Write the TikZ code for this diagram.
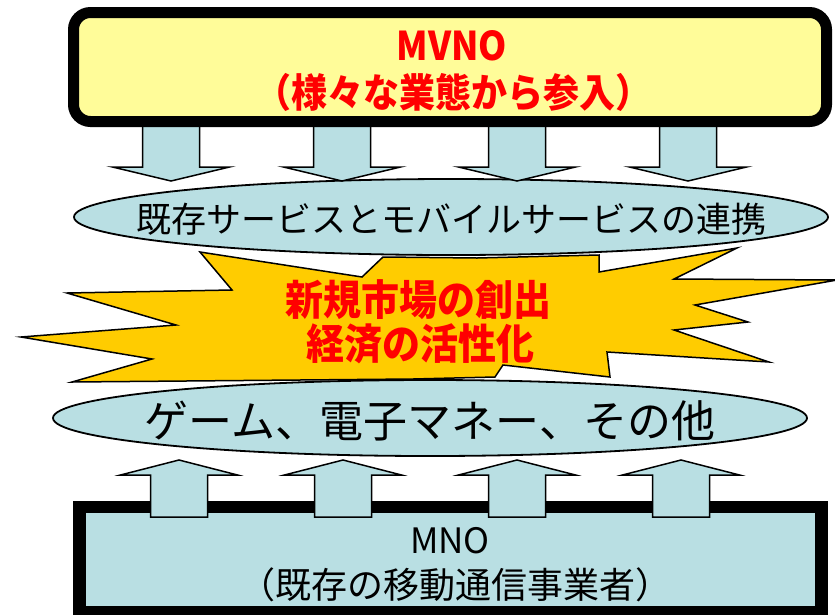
\documentclass[tikz,border=0pt]{standalone}
\usepackage{fontspec}
\newfontfamily\cjk{Noto Sans CJK JP}
\definecolor{boxyellow}{HTML}{FFFC99}
\definecolor{lightblue}{HTML}{B9DFE3}
\definecolor{stargold}{HTML}{FFCC00}
\definecolor{textred}{HTML}{FF0000}
\tikzset{
  blockarrow/.style={fill=lightblue, draw=black, line width=1.5pt, line join=miter},
  bubble/.style={fill=lightblue, draw=black, line width=1.8pt},
  redtext/.style={text=textred, font=\cjk\bfseries\fontsize{36}{40}\selectfont, inner sep=0pt},
  startext/.style={text=textred, font=\cjk\bfseries\fontsize{38}{44}\selectfont, inner sep=0pt},
  plaintext/.style={text=black, inner sep=0pt}
}
\begin{document}
\begin{tikzpicture}[x=1pt,y=-1pt]
\useasboundingbox (0,0) rectangle (835,614);
\clip (0,0) rectangle (835,614);

% star burst
\draw[fill=stargold, draw=black, line width=1.5pt, line join=miter]
  (200,252) -- (362,277) -- (383,257) -- (477,258) -- (599,255) -- (599,272)
  -- (737,248) -- (674,279) -- (837,280) -- (695,305) -- (748,322) -- (674,330)
  -- (769,362) -- (607,352) -- (610,377) -- (503,365) -- (495,377) -- (413,379)
  -- (72,382) -- (152,359) -- (21,337) -- (176,325) -- (67,293) -- (232,290) -- cycle;

% ellipses
\draw[bubble] (451,217) ellipse [x radius=377pt, y radius=38pt];
\draw[bubble] (430,418) ellipse [x radius=377pt, y radius=38pt];

\node[plaintext, font=\cjk\fontsize{35}{40}\selectfont] (link) at (451,219) {既存サービスとモバイルサービスの連携};
\node[plaintext, font=\cjk\fontsize{44}{50}\selectfont] (game) at (430,421) {ゲーム、電子マネー、その他};

\node[startext] (star1) at (418,300) {\scalebox{1}[1.1]{新規市場の創出}};
\node[startext] (star2) at (420,344) {\scalebox{1}[1.1]{経済の活性化}};

% down arrows
\foreach \cx in {171,342,517,688}{
  \draw[blockarrow] (\cx-28.5,120) -- (\cx-28.5,167) -- (\cx-58.5,167) -- (\cx,181)
    -- (\cx+58.5,167) -- (\cx+28.5,167) -- (\cx+28.5,120) -- cycle;
}

% MVNO box
\draw[fill=boxyellow, draw=black, line width=11pt, rounded corners=17pt]
  (73.5,12.5) rectangle (826.5,121.5);
\node[redtext] (mvno) at (452,46) {\scalebox{1}[1.1]{MVNO}};
\node[redtext] (mvno2) at (453,92) {\scalebox{1}[1.1]{（様々な業態から参入）}};

% MNO box
\draw[fill=lightblue, draw=black, line width=12.5pt, line join=miter]
  (79.5,507) rectangle (821.5,612);
\node[plaintext, font=\cjk\fontsize{35}{40}\selectfont] (mno) at (450,541) {MNO};
\node[plaintext, font=\cjk\fontsize{36}{40}\selectfont] (mno2) at (455,585) {（既存の移動通信事業者）};

% up arrows
\foreach \cx in {179,343,517,681}{
  \draw[blockarrow] (\cx-28.5,517) -- (\cx-28.5,475) -- (\cx-58.5,475) -- (\cx,460)
    -- (\cx+58.5,475) -- (\cx+28.5,475) -- (\cx+28.5,517) -- cycle;
}
\end{tikzpicture}
\end{document}
